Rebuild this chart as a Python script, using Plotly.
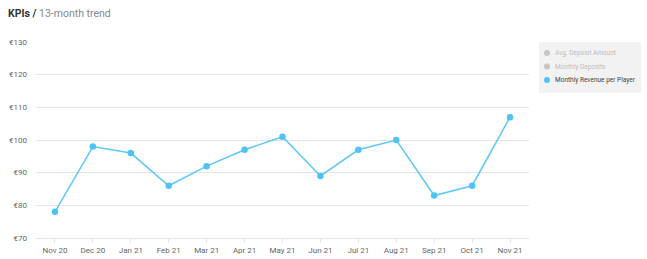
import plotly.graph_objects as go

months = ["Nov 20", "Dec 20", "Jan 21", "Feb 21", "Mar 21", "Apr 21", "May 21",
          "Jun 21", "Jul 21", "Aug 21", "Sep 21", "Oct 21", "Nov 21"]
revenue_per_player = [78, 98, 96, 86, 92, 97, 101, 89, 97, 100, 83, 86, 107]
y_ticks = [70, 80, 90, 100, 110, 120, 130]
y_labels = ["€70", "€80", "€90", "€100", "€110", "€120", "€130"]
legend_names = ["Avg. Deposit Amount", "Monthly Deposits", "Monthly Revenue per Player"]
legend_active = [False, False, True]

W, H = 647, 259
L, R, T, B = 36, 118, 42, 21
PW, PH = W - L - R, H - T - B


def px_x(px):
    return (px - L) / PW


def px_y(py):
    return (H - B - py) / PH


fig = go.Figure()
fig.add_trace(go.Scatter(x=months, y=revenue_per_player, name=legend_names[2],
                         mode="lines+markers", showlegend=False,
                         line=dict(color="#5ec8f8", width=1.5),
                         marker=dict(color="#4fc3f7", size=6.5)))

shapes = [dict(type="rect", xref="paper", yref="paper",
               x0=px_x(539), x1=px_x(641), y0=px_y(93), y1=px_y(42),
               fillcolor="#f2f2f2", line=dict(width=0), layer="below")]
annotations = [dict(
    x=0, y=1, xref="paper", yref="paper", xanchor="left", yanchor="top",
    xshift=-30, yshift=37, showarrow=False,
    text="<b style='color:#333333'>KPIs /</b> <span style='color:#888888'>13-month trend</span>",
    font=dict(size=10.5, family="Roboto, sans-serif"))]

row_y = [53, 66.5, 80]
for name, active, ry in zip(legend_names, legend_active, row_y):
    col = "#4fc3f7" if active else "#c6c6c6"
    shapes.append(dict(type="circle", xref="paper", yref="paper",
                       xsizemode="pixel", ysizemode="pixel",
                       xanchor=px_x(547), yanchor=px_y(ry),
                       x0=-3, x1=3, y0=-3, y1=3,
                       fillcolor=col, line=dict(width=0)))
    annotations.append(dict(x=px_x(553), y=px_y(ry), xref="paper", yref="paper",
                            xanchor="left", yanchor="middle", showarrow=False,
                            text=name,
                            font=dict(size=6.5, color="#444444" if active else "#bdbdbd",
                                      family="Roboto, sans-serif")))

fig.update_layout(
    width=W, height=H,
    margin=dict(l=L, r=R, t=T, b=B, autoexpand=False),
    paper_bgcolor="white", plot_bgcolor="white",
    font=dict(family="Roboto, sans-serif", size=8, color="#666666"),
    showlegend=False,
    xaxis=dict(type="category", range=[-0.5, len(months) - 0.5],
               showgrid=False, showline=True,
               linecolor="#dfe5ee", linewidth=1,
               ticks="outside", tickcolor="#dfe5ee", ticklen=4,
               tickfont=dict(size=8, color="#666666"), fixedrange=True),
    yaxis=dict(range=[70, 130], tickvals=y_ticks, ticktext=y_labels,
               showgrid=True, gridcolor="#e6e6e6", zeroline=False,
               showline=False, ticks="", ticklabelstandoff=8,
               tickfont=dict(size=8, color="#666666")),
    shapes=shapes,
    annotations=annotations,
)

fig.write_html("out.html")
